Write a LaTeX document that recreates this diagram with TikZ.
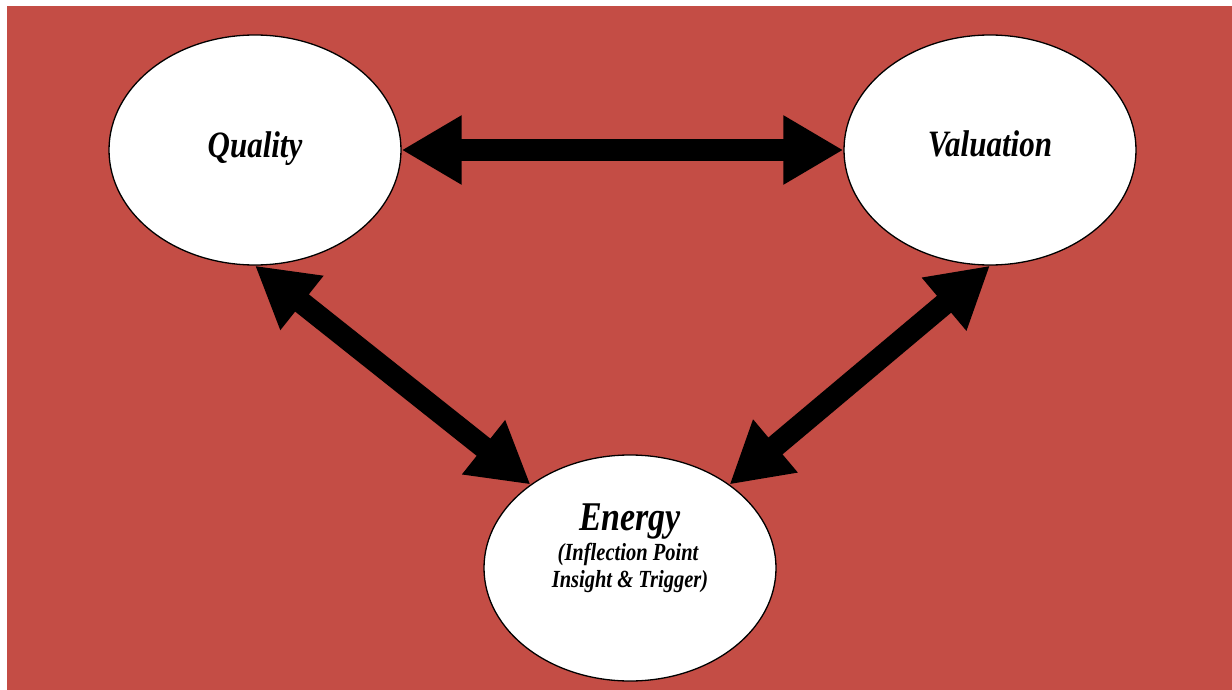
\documentclass[tikz,border=0pt]{standalone}
\usepackage{fontspec}
\usepackage{graphicx}
\setmainfont{Liberation Serif}
\usetikzlibrary{shapes.geometric}
\usetikzlibrary{arrows.meta}
\definecolor{bgred}{RGB}{196,77,69}
\newcommand{\tallfont}[2]{\fontsize{#1}{#1}\selectfont\scalebox{1}[1.2]{#2}}
\tikzset{bubble/.style={ellipse, draw=black, line width=1.3pt, fill=white,
                        minimum width=292pt, minimum height=230pt, inner sep=0pt},
         bigarrow/.style={line width=22pt,
                          {Triangle[width=65pt,length=60pt]}-{Triangle[width=65pt,length=60pt]}}}

\begin{document}
\begin{tikzpicture}[x=1pt, y=-1pt, font=\bfseries\itshape]
\useasboundingbox (0,0) rectangle (1232,690);
\fill[bgred] (7,6) rectangle (1232,690);
\node[bubble] (quality) at (255,150) {};
\node[bubble] (valuation) at (990,150) {};
\node[bubble, minimum height=226pt] (energy) at (630,568) {};
\node[anchor=base, inner sep=0pt] (qualitytext) at (255,158) {\tallfont{31}{Quality}};
\node[anchor=base, inner sep=0pt] (valuationtext) at (990,157) {\tallfont{31}{Valuation}};
\node[anchor=base, inner sep=0pt] (energytitle) at (630,530) {\tallfont{34}{Energy}};
\node[anchor=base, inner sep=0pt] (energyline1) at (628,560) {\tallfont{20.5}{(Inflection Point}};
\node[anchor=base, inner sep=0pt] (energyline2) at (630,587) {\tallfont{20.5}{Insight \& Trigger)}};
\draw[bigarrow] (quality.east) -- (valuation.west);
\draw[bigarrow] (quality.south) -- (energy.140);
\draw[bigarrow] (valuation.south) -- (energy.40);
\end{tikzpicture}
\end{document}
